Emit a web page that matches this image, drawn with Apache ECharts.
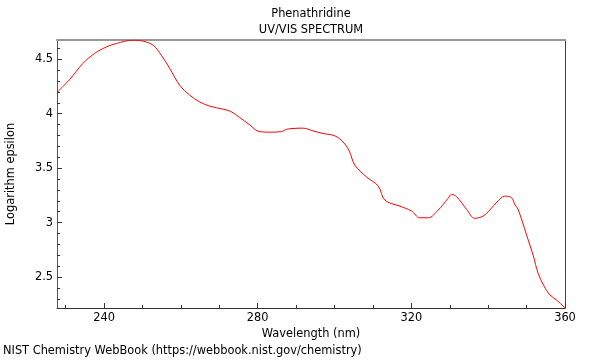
<!DOCTYPE html>
<html>
<head>
<meta charset="utf-8">
<script src="https://cdn.jsdelivr.net/npm/echarts@6/dist/echarts.min.js"></script>
<style>html,body{margin:0;padding:0;background:#fff}#c{width:600px;height:360px}</style>
</head>
<body>
<div id="c"></div>
<script>
const wavelength = [227.76, 231.1, 234.5, 237.5, 240.6, 243.2, 247.5, 250.2, 252.8, 254.9, 257.1, 259.7, 262.3, 264.9, 267.5, 271.0, 273.0, 275.3, 278.0, 280.1, 283.0, 286.2, 287.5, 289.2, 291.8, 294.4, 297.0, 300.1, 302.2, 303.8, 305.3, 308.3, 311.4, 313.1, 317.0, 320.05, 322.2, 324.4, 327.0, 329.5, 330.5, 331.8, 334.4, 336.5, 338.7, 340.4, 342.6, 344.3, 346.1, 347.0, 347.8, 350.0, 351.7, 353.0, 354.5, 356.1, 357.8, 360.0];
const logEpsilon = [4.195, 4.315, 4.461, 4.552, 4.612, 4.644, 4.674, 4.665, 4.628, 4.537, 4.415, 4.261, 4.170, 4.108, 4.069, 4.041, 4.020, 3.965, 3.895, 3.839, 3.830, 3.835, 3.856, 3.864, 3.867, 3.842, 3.818, 3.796, 3.741, 3.660, 3.527, 3.420, 3.335, 3.206, 3.151, 3.106, 3.044, 3.044, 3.115, 3.220, 3.259, 3.237, 3.121, 3.039, 3.060, 3.115, 3.200, 3.243, 3.228, 3.161, 3.121, 2.885, 2.702, 2.534, 2.420, 2.335, 2.289, 2.216];
const xMajorTicks = [240, 280, 320, 360];
const xMinorTicks = [230, 250, 260, 270, 290, 300, 310, 330, 340, 350];
const yMajorTicks = [2.5, 3, 3.5, 4, 4.5];
const yMinorTicks = [2.3, 2.4, 2.6, 2.7, 2.8, 2.9, 3.1, 3.2, 3.3, 3.4, 3.6, 3.7, 3.8, 3.9, 4.1, 4.2, 4.3, 4.4, 4.6];
const X_MIN = 227.76, X_MAX = 360, Y_MIN = 2.216, Y_MAX = 4.676;

const FONT = 'DejaVu Sans';
const FS = 11.4;
const chart = echarts.init(document.getElementById('c'), null, {renderer: 'canvas'});
const data = wavelength.map((w, i) => [w, logEpsilon[i]]);
const hiddenAxis = {show: true, axisLabel: {show: false}, splitLine: {show: false}};
chart.setOption({
  animation: false,
  backgroundColor: '#fff',
  title: {
    text: 'Phenathridine',
    subtext: 'UV/VIS SPECTRUM',
    left: 306, top: 4, textAlign: 'center', itemGap: 5,
    textStyle: {fontFamily: FONT, fontSize: FS, fontWeight: 'normal', color: '#000'},
    subtextStyle: {fontFamily: FONT, fontSize: FS, color: '#000'}
  },
  grid: {left: 57, right: 35, top: 40, bottom: 52, containLabel: false, outerBoundsMode: 'none'},
  xAxis: [
    {
      type: 'value', min: X_MIN, max: X_MAX, position: 'bottom',
      name: 'Wavelength (nm)', nameLocation: 'middle', nameGap: 19,
      nameTextStyle: {fontFamily: FONT, fontSize: FS, color: '#000'},
      axisLine: {show: true, lineStyle: {color: '#333', width: 1}},
      axisTick: {show: true, inside: true, length: 5, customValues: xMajorTicks, lineStyle: {color: '#333'}},
      axisLabel: {show: true, customValues: xMajorTicks, margin: 5, fontFamily: FONT, fontSize: FS, color: '#000'},
      splitLine: {show: false}
    },
    Object.assign({}, hiddenAxis, {
      type: 'value', min: X_MIN, max: X_MAX, position: 'bottom',
      axisLine: {show: false},
      axisTick: {show: true, inside: true, length: 3, customValues: xMinorTicks, lineStyle: {color: '#333'}}
    }),
    Object.assign({}, hiddenAxis, {
      type: 'value', min: X_MIN, max: X_MAX, position: 'top',
      axisLine: {show: true, lineStyle: {color: '#999', width: 2}},
      axisTick: {show: false}
    })
  ],
  yAxis: [
    {
      type: 'value', min: Y_MIN, max: Y_MAX, position: 'left',
      name: 'Logarithm epsilon', nameLocation: 'middle', nameGap: 40,
      nameTextStyle: {fontFamily: FONT, fontSize: FS, color: '#000'},
      axisLine: {show: true, lineStyle: {color: '#555', width: 1}},
      axisTick: {show: true, inside: true, length: 5, customValues: yMajorTicks, lineStyle: {color: '#333'}},
      axisLabel: {show: true, customValues: yMajorTicks, margin: 4, fontFamily: FONT, fontSize: FS, color: '#000',
        formatter: v => String(+v.toFixed(2))},
      splitLine: {show: false}
    },
    Object.assign({}, hiddenAxis, {
      type: 'value', min: Y_MIN, max: Y_MAX, position: 'left',
      axisLine: {show: false},
      axisTick: {show: true, inside: true, length: 3, customValues: yMinorTicks, lineStyle: {color: '#333'}}
    }),
    Object.assign({}, hiddenAxis, {
      type: 'value', min: Y_MIN, max: Y_MAX, position: 'right',
      axisLine: {show: true, lineStyle: {color: '#444', width: 1}},
      axisTick: {show: false}
    })
  ],
  series: [{
    type: 'line', xAxisIndex: 0, yAxisIndex: 0, data: data,
    showSymbol: false, smooth: 0.35, clip: true,
    lineStyle: {color: '#ff0000', width: 1}
  }],
  graphic: [{
    type: 'text', left: 3, top: 346,
    style: {text: 'NIST Chemistry WebBook (https://webbook.nist.gov/chemistry)', font: FS + 'px "DejaVu Sans"', fill: '#000'}
  }]
});
</script>
</body>
</html>
